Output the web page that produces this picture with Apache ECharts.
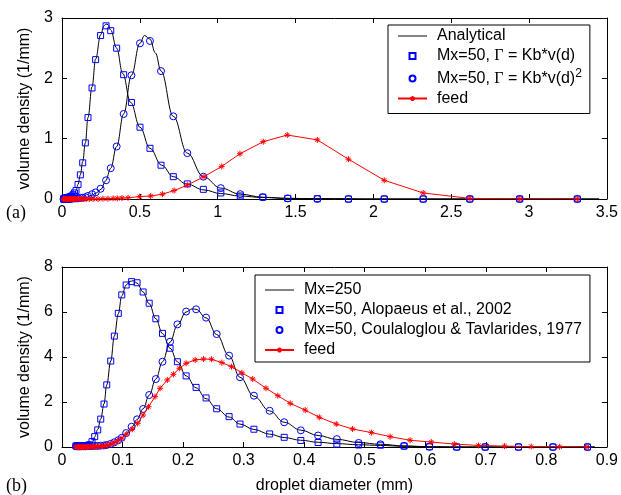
<!DOCTYPE html>
<html>
<head>
<meta charset="utf-8">
<script src="https://cdn.jsdelivr.net/npm/echarts@6/dist/echarts.min.js"></script>
<style>html,body{margin:0;padding:0;background:#fff}#c{width:621px;height:495px}</style>
</head>
<body>
<div id="c"></div>
<script>
// ---------- (a) top panel ----------
const topMarkX = [0.010, 0.011, 0.012, 0.014, 0.016, 0.018, 0.020, 0.022, 0.025, 0.028, 0.031, 0.035, 0.039, 0.044, 0.050, 0.056, 0.063, 0.071, 0.080, 0.090, 0.103, 0.118, 0.133, 0.150, 0.167, 0.193, 0.216, 0.248, 0.283, 0.313, 0.351, 0.396, 0.446, 0.501, 0.565, 0.636, 0.715, 0.805, 0.908, 1.020, 1.145, 1.290, 1.450, 1.640, 1.840, 2.070, 2.320, 2.620, 2.940, 3.310];
const topSqY = [0.00, 0.00, 0.00, 0.01, 0.01, 0.01, 0.01, 0.01, 0.01, 0.02, 0.02, 0.02, 0.02, 0.03, 0.03, 0.04, 0.05, 0.07, 0.10, 0.14, 0.24, 0.40, 0.60, 0.93, 1.35, 1.84, 2.31, 2.71, 2.87, 2.79, 2.50, 2.06, 1.60, 1.19, 0.84, 0.56, 0.37, 0.25, 0.16, 0.10, 0.05, 0.03, 0.01, 0.005, 0, 0, 0, 0, 0, 0];
const topCiY = [0, 0, 0, 0, 0, 0, 0, 0, 0, 0, 0, 0, 0, 0, 0, 0.005, 0.005, 0.01, 0.01, 0.01, 0.01, 0.02, 0.02, 0.03, 0.05, 0.08, 0.11, 0.17, 0.31, 0.51, 0.87, 1.41, 2.05, 2.58, 2.62, 2.12, 1.37, 0.76, 0.37, 0.18, 0.08, 0.03, 0.01, 0, 0, 0, 0, 0, 0, 0];
const topAnaX1 = [0.00, 0.04, 0.06, 0.07, 0.08, 0.09, 0.103, 0.118, 0.133, 0.150, 0.167, 0.193, 0.216, 0.248, 0.270, 0.283, 0.295, 0.313, 0.351, 0.39, 0.441, 0.501, 0.565, 0.64, 0.715, 0.80, 0.912, 1.02, 1.14, 1.29, 1.45, 1.64, 2.0, 3.45];
const topAnaY1 = [0, 0.01, 0.03, 0.05, 0.08, 0.14, 0.24, 0.40, 0.62, 0.93, 1.35, 1.86, 2.32, 2.72, 2.87, 2.90, 2.89, 2.80, 2.50, 2.08, 1.60, 1.19, 0.84, 0.56, 0.37, 0.25, 0.15, 0.09, 0.05, 0.025, 0.01, 0.005, 0, 0];
const topAnaX2 = [0, 0.10, 0.15, 0.19, 0.22, 0.25, 0.28, 0.313, 0.351, 0.396, 0.446, 0.50, 0.53, 0.565, 0.60, 0.636, 0.715, 0.805, 0.908, 1.02, 1.145, 1.29, 1.45, 1.64, 2.0, 3.45];
const topAnaY2 = [0, 0.005, 0.02, 0.06, 0.10, 0.16, 0.30, 0.51, 0.87, 1.41, 2.05, 2.58, 2.71, 2.65, 2.42, 2.12, 1.37, 0.76, 0.37, 0.18, 0.08, 0.03, 0.01, 0.005, 0, 0];
const topFeedX = [0.010, 0.015, 0.020, 0.025, 0.030, 0.035, 0.040, 0.045, 0.050, 0.055, 0.060, 0.065, 0.070, 0.075, 0.080, 0.090, 0.100, 0.110, 0.125, 0.140, 0.155, 0.175, 0.200, 0.231, 0.263, 0.295, 0.328, 0.355, 0.385, 0.424, 0.499, 0.570, 0.645, 0.720, 0.805, 0.912, 1.026, 1.143, 1.293, 1.447, 1.640, 1.840, 2.070, 2.320, 2.620, 2.940, 3.310];
const topFeedY = [0, 0, 0, 0, 0, 0, 0, 0, 0, 0, 0, 0, 0, 0, 0, 0, 0, 0, 0, 0, 0, 0, 0, 0, 0.005, 0.005, 0.01, 0.01, 0.015, 0.02, 0.04, 0.05, 0.08, 0.14, 0.23, 0.37, 0.54, 0.75, 0.95, 1.06, 0.98, 0.66, 0.31, 0.10, 0.01, 0, 0];

// ---------- (b) bottom panel ----------
const botMarkX = [0.023, 0.025, 0.027, 0.029, 0.031, 0.033, 0.036, 0.039, 0.042, 0.045, 0.0496, 0.054, 0.059, 0.064, 0.0694, 0.0739, 0.0805, 0.0865, 0.093, 0.0987, 0.106, 0.115, 0.124, 0.134, 0.144, 0.155, 0.166, 0.1785, 0.1906, 0.205, 0.2215, 0.238, 0.2555, 0.276, 0.294, 0.317, 0.343, 0.367, 0.3945, 0.423, 0.454, 0.490, 0.526, 0.565, 0.607, 0.652, 0.699, 0.754, 0.811, 0.868];
const botSqY = [0.05, 0.05, 0.05, 0.05, 0.05, 0.05, 0.05, 0.06, 0.07, 0.10, 0.24, 0.46, 0.76, 1.24, 1.91, 2.76, 3.82, 4.93, 5.94, 6.76, 7.20, 7.35, 7.30, 6.89, 6.39, 5.70, 5.05, 4.39, 3.79, 3.16, 2.65, 2.18, 1.70, 1.35, 1.02, 0.79, 0.58, 0.43, 0.29, 0.20, 0.13, 0.09, 0.08, 0.04, 0.01, 0, 0, 0, 0, 0];
const botCiY = [0.03, 0.03, 0.03, 0.03, 0.03, 0.03, 0.03, 0.03, 0.04, 0.04, 0.04, 0.05, 0.05, 0.06, 0.07, 0.09, 0.14, 0.21, 0.30, 0.41, 0.62, 0.90, 1.23, 1.69, 2.31, 3.02, 3.79, 4.68, 5.45, 6.02, 6.12, 5.75, 5.02, 4.06, 3.10, 2.28, 1.61, 1.10, 0.74, 0.51, 0.35, 0.18, 0.12, 0.05, 0.01, 0, 0, 0, 0, 0];
const botLineX1 = [0.023, 0.035, 0.045, 0.050, 0.054, 0.059, 0.064, 0.0694, 0.0739, 0.0805, 0.0865, 0.093, 0.0987, 0.106, 0.112, 0.118, 0.124, 0.134, 0.144, 0.155, 0.166, 0.1785, 0.1906, 0.205, 0.2215, 0.238, 0.2555, 0.276, 0.294, 0.317, 0.343, 0.367, 0.3945, 0.423, 0.454, 0.49, 0.526, 0.565, 0.607, 0.652, 0.75, 0.88];
const botLineY1 = [0.05, 0.05, 0.08, 0.20, 0.45, 0.78, 1.25, 1.92, 2.76, 3.82, 4.93, 5.92, 6.72, 7.20, 7.36, 7.39, 7.28, 6.89, 6.37, 5.70, 5.04, 4.39, 3.79, 3.16, 2.63, 2.15, 1.70, 1.33, 1.02, 0.78, 0.57, 0.42, 0.30, 0.21, 0.15, 0.10, 0.07, 0.03, 0.01, 0, 0, 0];
const botLineX2 = [0.023, 0.05, 0.07, 0.0805, 0.0865, 0.093, 0.0987, 0.106, 0.115, 0.124, 0.134, 0.144, 0.155, 0.166, 0.1785, 0.1906, 0.205, 0.215, 0.2215, 0.238, 0.2555, 0.276, 0.294, 0.317, 0.343, 0.367, 0.3945, 0.423, 0.454, 0.49, 0.526, 0.565, 0.607, 0.652, 0.75, 0.88];
const botLineY2 = [0.05, 0.05, 0.08, 0.14, 0.21, 0.30, 0.40, 0.60, 0.88, 1.22, 1.70, 2.30, 3.02, 3.79, 4.66, 5.42, 6.00, 6.14, 6.12, 5.74, 5.00, 4.05, 3.10, 2.26, 1.60, 1.10, 0.75, 0.51, 0.34, 0.20, 0.12, 0.05, 0.01, 0, 0, 0];
const botFeedX = [0.023, 0.025, 0.027, 0.028, 0.030, 0.032, 0.034, 0.036, 0.038, 0.040, 0.042, 0.044, 0.047, 0.050, 0.053, 0.056, 0.059, 0.063, 0.067, 0.071, 0.075, 0.080, 0.086, 0.092, 0.099, 0.107, 0.116, 0.125, 0.134, 0.143, 0.1537, 0.162, 0.174, 0.184, 0.194, 0.205, 0.220, 0.2336, 0.247, 0.264, 0.280, 0.297, 0.315, 0.337, 0.3565, 0.377, 0.4017, 0.425, 0.453, 0.480, 0.511, 0.542, 0.575, 0.610, 0.648, 0.688, 0.731, 0.775, 0.822, 0.867];
const botFeedY = [0, 0, 0, 0, 0, 0, 0, 0, 0, 0, 0, 0, 0.01, 0.01, 0.01, 0.02, 0.02, 0.03, 0.04, 0.06, 0.08, 0.12, 0.18, 0.27, 0.39, 0.58, 0.79, 1.05, 1.42, 1.79, 2.24, 2.61, 2.98, 3.23, 3.50, 3.72, 3.87, 3.91, 3.90, 3.75, 3.57, 3.30, 3.02, 2.61, 2.28, 1.94, 1.64, 1.32, 1.02, 0.80, 0.64, 0.46, 0.30, 0.22, 0.13, 0.07, 0.04, 0.02, 0.01, 0];

// axis ranges [min, max, interval]
const topXRange = [0, 3.5, 0.5];
const topYRange = [0, 3, 1];
const botXRange = [0, 0.9, 0.1];
const botYRange = [0, 8, 2];

// names
const nAna = 'Analytical';
const nTopSq = 'Mx=50, Γ = Kb*v(d)';
const nTopCi = 'Mx=50, Γ = Kb*v(d)^2';
const nFeed = 'feed';
const nMx250 = 'Mx=250';
const nBotSq = 'Mx=50, Alopaeus et al., 2002';
const nBotCi = 'Mx=50, Coulaloglou & Tavlarides, 1977';

const zip = (xs, ys) => xs.map((x, i) => [x, ys[i]]);
const FONT = 'Liberation Sans';
const BLUE = '#0000ff';
const RED = '#ff0000';
const STAR = 'path://M5,0L5,10M0,5L10,5M1.5,1.5L8.5,8.5M1.5,8.5L8.5,1.5';
const SQUARE = 'path://M0,0L10,0L10,10L0,10Z';
const HLINE = 'path://M0,0L30,0L30,1L0,1Z';

function xAx(grid, r, pos, labels) {
  return {
    type: 'value', gridIndex: grid, position: pos, min: r[0], max: r[1], interval: r[2],
    axisLine: { show: true, onZero: false, lineStyle: { color: '#000', width: 1 } },
    axisTick: { show: true, inside: true, length: 5, lineStyle: { color: '#000' } },
    axisLabel: { show: labels, color: '#000', fontSize: 16, fontFamily: FONT, margin: 6 },
    splitLine: { show: false }
  };
}
function yAx(grid, r, pos, labels) {
  return {
    type: 'value', gridIndex: grid, position: pos, min: r[0], max: r[1], interval: r[2],
    axisLine: { show: true, onZero: false, lineStyle: { color: '#000', width: 1 } },
    axisTick: { show: true, inside: true, length: 5, lineStyle: { color: '#000' } },
    axisLabel: { show: labels, color: '#000', fontSize: 16, fontFamily: FONT, margin: 9 },
    splitLine: { show: false }
  };
}

const xAxes = [
  xAx(0, topXRange, 'bottom', true), xAx(0, topXRange, 'top', false),
  xAx(1, botXRange, 'bottom', true), xAx(1, botXRange, 'top', false)
];
xAxes[2].name = 'droplet diameter (mm)';
xAxes[2].nameLocation = 'middle';
xAxes[2].nameGap = 31;
xAxes[2].nameTextStyle = { color: '#000', fontSize: 16, fontFamily: FONT };

const yAxes = [
  yAx(0, topYRange, 'left', true), yAx(0, topYRange, 'right', false),
  yAx(1, botYRange, 'left', true), yAx(1, botYRange, 'right', false)
];
[0, 2].forEach(i => {
  yAxes[i].name = 'volume density (1/mm)';
  yAxes[i].nameLocation = 'middle';
  yAxes[i].nameGap = 29;
  yAxes[i].nameTextStyle = { color: '#000', fontSize: 16, fontFamily: FONT };
});

function blackLine(name, xi, yi, xs, ys) {
  return { name, type: 'line', xAxisIndex: xi, yAxisIndex: yi, data: zip(xs, ys),
    showSymbol: false, symbol: 'none', smooth: 0.4, smoothMonotone: 'x',
    lineStyle: { color: '#000', width: 1 }, itemStyle: { color: '#000' }, z: 2, silent: true, animation: false };
}
function markers(name, xi, yi, xs, ys, sym, size) {
  return { name, type: 'scatter', xAxisIndex: xi, yAxisIndex: yi, data: zip(xs, ys),
    symbol: sym, symbolSize: size,
    itemStyle: { color: 'rgba(0,0,0,0)', borderColor: BLUE, borderWidth: 1, opacity: 1 }, z: 3, animation: false };
}
function feedLine(xi, yi, xs, ys) {
  return { name: nFeed, type: 'line', xAxisIndex: xi, yAxisIndex: yi, data: zip(xs, ys),
    symbol: STAR, symbolSize: 6, showSymbol: true, showAllSymbol: true,
    lineStyle: { color: RED, width: 1 },
    itemStyle: { color: RED, borderColor: RED, borderWidth: 1 }, z: 4, animation: false };
}

const legendText = { color: '#000', fontSize: 16, fontFamily: FONT, padding: [0, 0, 0, 5],
  rich: { g: { fontFamily: 'Liberation Serif', fontSize: 16, color: '#000' },
          sup: { fontSize: 12, color: '#000', padding: [0, 0, 9, 0] } } };

const option = {
  animation: false,
  backgroundColor: '#fff',
  grid: [
    { left: 62, top: 18, width: 545, height: 181 },
    { left: 62, top: 267, width: 545, height: 180 }
  ],
  xAxis: xAxes,
  yAxis: yAxes,
  legend: [
    { data: [{ name: nAna, icon: HLINE, itemStyle: { color: '#000' } }, { name: nTopSq, icon: SQUARE }, { name: nTopCi, icon: 'circle' }, { name: nFeed }],
      orient: 'vertical', left: 388, top: 25,
      backgroundColor: '#fff', borderColor: '#000', borderWidth: 1, padding: [3, 8, 7, 9],
      itemWidth: 29, itemHeight: 6, itemGap: 4, selectedMode: false, textStyle: legendText,
      formatter: function (n) {
        if (n === nTopSq) return 'Mx=50, {g|Γ} = Kb*v(d)';
        if (n === nTopCi) return 'Mx=50, {g|Γ} = Kb*v(d){sup|2}';
        return n;
      } },
    { data: [{ name: nMx250, icon: HLINE, itemStyle: { color: '#000' } }, { name: nBotSq, icon: SQUARE }, { name: nBotCi, icon: 'circle' }, { name: nFeed }],
      orient: 'vertical', left: 255, top: 275,
      backgroundColor: '#fff', borderColor: '#000', borderWidth: 1, padding: [7, 8, 4, 9],
      itemWidth: 29, itemHeight: 6, itemGap: 4, selectedMode: false, textStyle: legendText }
  ],
  graphic: [
    { type: 'text', left: 6, top: 204, style: { text: '(a)', font: '18px "Liberation Serif"', fill: '#000' } },
    { type: 'text', left: 6, top: 477, style: { text: '(b)', font: '18px "Liberation Serif"', fill: '#000' } }
  ],
  series: [
    blackLine(nAna, 0, 0, topAnaX1, topAnaY1),
    blackLine(nAna, 0, 0, topAnaX2, topAnaY2),
    markers(nTopSq, 0, 0, topMarkX, topSqY, 'rect', 6),
    markers(nTopCi, 0, 0, topMarkX, topCiY, 'circle', 7),
    feedLine(0, 0, topFeedX, topFeedY),
    blackLine(nMx250, 2, 2, botLineX1, botLineY1),
    blackLine(nMx250, 2, 2, botLineX2, botLineY2),
    markers(nBotSq, 2, 2, botMarkX, botSqY, 'rect', 6),
    markers(nBotCi, 2, 2, botMarkX, botCiY, 'circle', 7),
    feedLine(2, 2, botFeedX, botFeedY)
  ]
};
const chart = echarts.init(document.getElementById('c'), null, { renderer: 'canvas' });
chart.setOption(option);
</script>
</body>
</html>
